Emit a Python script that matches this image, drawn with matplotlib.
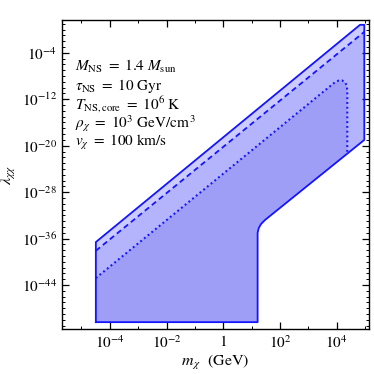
import numpy as np
import matplotlib
matplotlib.use("Agg")
import matplotlib.pyplot as plt
from matplotlib.ticker import FixedLocator, FixedFormatter, NullFormatter

plt.rcParams['font.family'] = ['Liberation Serif', 'DejaVu Serif']
plt.rcParams['mathtext.fontset'] = 'stix'

# ---- data (log10 values) ----
# outer (solid) region boundary
outer_logm   = [-4.49, -4.49, 4.82, 4.97, 4.97, 1.47, 1.33, 1.25, 1.21, 1.21]
outer_loglam = [-50.4, -36.6, 0.83, 0.83, -19.0, -32.8, -33.5, -34.2, -35.0, -50.4]
# dashed upper boundary
dashed_logm   = [-4.49, 4.97]
dashed_loglam = [-38.1, -0.38]
# dotted boundary
dotted_logm   = [-4.49, 3.90, 4.05, 4.18, 4.28, 4.35, 4.37, 4.37]
dotted_loglam = [-42.8, -9.2, -8.8, -8.75, -9.0, -9.6, -10.5, -21.4]
# lower-right part of outer boundary below the dotted vertical
lower_logm   = [4.37, 1.47, 1.33, 1.25, 1.21, 1.21, -4.49]
lower_loglam = [-21.4, -32.8, -33.5, -34.2, -35.0, -50.4, -50.4]

xtick_vals = [-4, -2, 0, 2, 4]
xtick_labels = [r"$10^{-4}$", r"$10^{-2}$", r"$1$", r"$10^{2}$", r"$10^{4}$"]
ytick_vals = [-44, -36, -28, -20, -12, -4]
ytick_labels = [r"$10^{-44}$", r"$10^{-36}$", r"$10^{-28}$", r"$10^{-20}$", r"$10^{-12}$", r"$10^{-4}$"]

annot_lines = [r"$M_{\rm NS}\ =\ 1.4\ M_{\rm sun}$",
               r"$\tau_{\rm NS}\ =\ 10\ {\rm Gyr}$",
               r"$T_{\rm NS,core}\ =\ 10^6\ {\rm K}$",
               r"$\rho_\chi\ =\ 10^3\ {\rm GeV/cm}^{\,3}$",
               r"$v_\chi\ =\ 100\ {\rm km/s}$"]

c_line = "#1414ff"
c1 = "#cbcbff"
c2 = "#b4b4fc"
c3 = "#9e9ef7"

fig = plt.figure(figsize=(3.74, 3.74), dpi=100)
ax = fig.add_axes([0.166, 0.120, 0.821, 0.827])

def P(lm, ll):
    return 10.0 ** np.asarray(lm), 10.0 ** np.asarray(ll)

# outer region
ox, oy = P(outer_logm, outer_loglam)
ax.fill(ox, oy, color=c1, lw=0)
# dashed region: below dashed line inside outer region
d_m = [outer_logm[0]] + dashed_logm + outer_logm[4:]
d_l = [outer_loglam[0]] + dashed_loglam + outer_loglam[4:]
dx, dy = P(d_m, d_l)
ax.fill(dx, dy, color=c2, lw=0)
# dotted region
t_m = dotted_logm + lower_logm[1:]
t_l = dotted_loglam + lower_loglam[1:]
tx, ty = P(t_m, t_l)
ax.fill(tx, ty, color=c3, lw=0)

# boundary lines
ax.plot(*P(outer_logm + [outer_logm[0]], outer_loglam + [outer_loglam[0]]),
        color=c_line, lw=1.3)
ax.plot(*P(dashed_logm, dashed_loglam), color=c_line, lw=1.3, ls=(0, (3, 2)))
ax.plot(*P(dotted_logm, dotted_loglam), color=c_line, lw=1.5, ls=(0, (0.9, 1.4)))

ax.set_xscale('log')
ax.set_yscale('log')
ax.set_xlim(10 ** -5.68, 10 ** 5.14)
ax.set_ylim(10 ** -51.6, 10 ** 1.69)

ax.xaxis.set_major_locator(FixedLocator([10.0 ** v for v in xtick_vals]))
ax.xaxis.set_major_formatter(FixedFormatter(xtick_labels))
ax.xaxis.set_minor_locator(FixedLocator([10.0 ** v for v in range(-5, 6)]))
ax.xaxis.set_minor_formatter(NullFormatter())
ax.yaxis.set_major_locator(FixedLocator([10.0 ** v for v in ytick_vals]))
ax.yaxis.set_major_formatter(FixedFormatter(ytick_labels))
ax.yaxis.set_minor_locator(FixedLocator([10.0 ** v for v in range(-51, 2)]))
ax.yaxis.set_minor_formatter(NullFormatter())

ax.tick_params(which='both', direction='in', top=True, right=True, labelsize=11)
ax.tick_params(which='major', length=5, width=0.9)
ax.tick_params(which='minor', length=2.5, width=0.7)
for s in ax.spines.values():
    s.set_linewidth(1.0)

ax.set_xlabel(r"$m_{\,\chi}\ \ {\rm (GeV)}$", fontsize=11.5, labelpad=2)
ax.set_ylabel(r"$\lambda_{\chi\chi}$", fontsize=11.5, labelpad=3)

for i, line in enumerate(annot_lines):
    ax.text(0.043, 0.848 - i * 0.0615, line, transform=ax.transAxes,
            fontsize=11, va='center', ha='left')

fig.savefig("out.png", dpi=100)
